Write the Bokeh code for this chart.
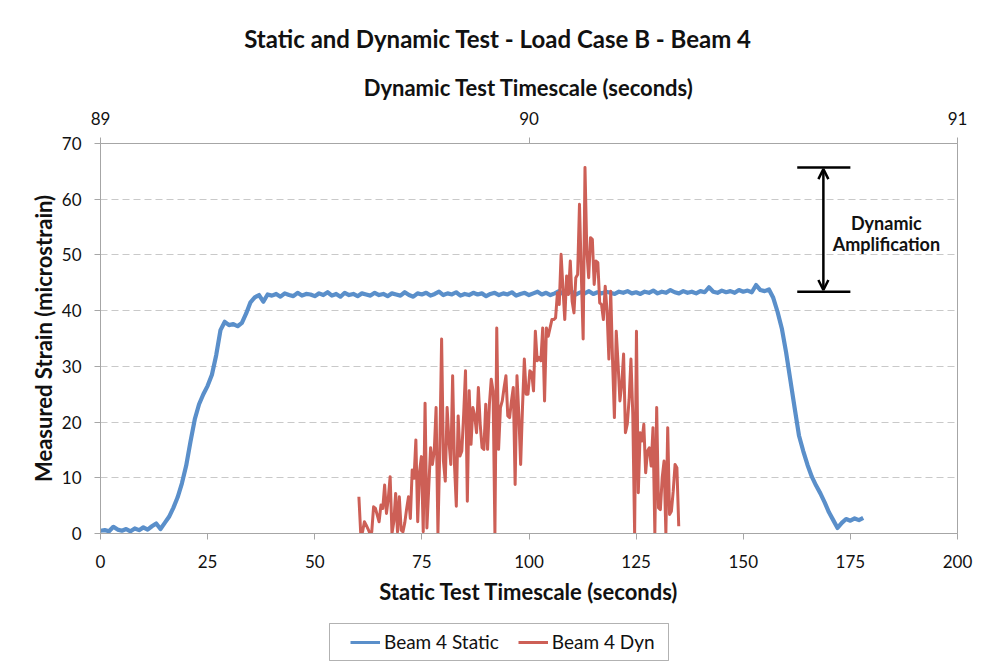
from bokeh.plotting import figure
from bokeh.layouts import column
from bokeh.models import (Range1d, LinearAxis, SingleIntervalTicker, Legend, LegendItem,
                          Arrow, OpenHead, Label, BoxAnnotation)
from bokeh.embed import file_html
from bokeh.resources import INLINE

FONT = "Lato"

# ---- Static test: sampled once per second (static timescale, seconds) ----
STATIC_T0 = 0.0
STATIC_DT = 1.0
static_strain = [
    0.5, 0.6, 0.4, 1.2, 0.7, 0.5, 0.8, 0.4, 0.9, 0.6,
    1.1, 0.7, 1.3, 1.8, 0.8, 1.9, 3.0, 4.6, 6.5, 9.0,
    12.2, 16.5, 20.5, 23.2, 25.0, 26.5, 28.5, 32.0, 36.5, 38.0,
    37.4, 37.6, 37.2, 37.8, 39.5, 41.5, 42.4, 42.8, 41.6, 42.9,
    42.7, 43.0, 42.5, 43.1, 42.8, 42.6, 43.2, 42.7, 43.0, 42.9,
    42.6, 43.1, 42.8, 43.3, 42.7, 43.0, 42.5, 43.2, 42.8, 43.0,
    42.6, 43.1, 42.9, 42.7, 43.2, 42.8, 43.0, 42.6, 43.1, 42.9,
    42.7, 43.3, 42.8, 42.5, 43.1, 42.9, 43.2, 42.7, 43.0, 43.4,
    42.8, 43.1, 42.9, 43.3, 42.7, 43.0, 42.8, 43.2, 42.9, 43.1,
    42.6, 43.0, 43.2, 42.8, 43.1, 42.9, 43.3, 42.7, 43.0, 43.2,
    42.8, 43.1, 43.4, 42.9, 43.2, 42.8, 43.1, 43.5, 43.0, 43.2,
    43.4, 42.9, 43.3, 43.1, 43.5, 43.0, 43.3, 43.1, 43.4, 43.2,
    43.0, 43.4, 43.2, 43.5, 43.1, 43.3, 43.0, 43.4, 43.2, 43.6,
    43.1, 43.4, 43.2, 43.7, 43.3, 43.1, 43.5, 43.2, 43.4, 43.1,
    43.5, 43.3, 44.2, 43.4, 43.2, 43.6, 43.3, 43.5, 43.2, 43.7,
    43.4, 43.6, 43.3, 44.6, 43.7, 43.5, 43.8, 42.3, 39.8, 36.8,
    32.5, 27.5, 22.5, 17.6, 14.8, 12.3, 10.2, 8.6, 7.2, 5.6,
    3.8, 2.4, 1.0, 1.9, 2.6, 2.3, 2.7, 2.4, 2.8,
]
static_time = [STATIC_T0 + i * STATIC_DT for i in range(len(static_strain))]

# ---- Dynamic test: sampled at a fixed rate (dynamic timescale, seconds) ----
DYN_T0 = 89.603
DYN_DT = 0.00429
dyn_strain = [
    6.6, 0.0, 0.3, 2.1, 1.5, 0.8, 0.0, 0.3, 4.8, 4.5,
    3.3, 2.1, 5.1, 4.5, 8.7, 3.6, 6.3, 10.2, 0.0, 2.1,
    7.2, 0.3, 6.6, 0.6, 0.3, 2.0, 4.5, 6.6, 2.7, 11.4,
    9.9, 16.8, 2.1, 11.1, 13.8, 0.3, 23.4, 1.0, 8.2, 15.4,
    12.4, 14.8, 22.6, 0.0, 14.8, 34.9, 13.0, 9.4, 22.6, 16.6,
    12.4, 28.3, 12.4, 4.9, 21.1, 13.9, 14.8, 21.4, 29.2, 5.8,
    25.6, 16.0, 22.6, 21.1, 18.1, 26.2, 19.6, 15.4, 15.1, 23.2,
    15.1, 23.2, 27.7, 25.6, 0.0, 36.9, 15.1, 22.6, 23.8, 26.2,
    28.3, 21.1, 20.8, 23.8, 26.2, 8.8, 28.3, 21.4, 12.4, 22.6,
    31.3, 25.0, 25.0, 29.2, 28.9, 25.6, 36.3, 31.0, 31.6, 31.0,
    36.9, 23.8, 36.9, 35.4, 36.9, 38.4, 38.4, 38.7, 43.2, 41.1,
    50.1, 44.1, 38.4, 46.2, 42.9, 48.9, 41.7, 39.6, 45.9, 46.5,
    59.1, 46.5, 34.9, 65.7, 50.7, 45.9, 53.1, 52.8, 44.7, 48.9,
    48.6, 41.4, 41.1, 38.4, 44.4, 39.9, 31.3, 43.5, 31.0, 20.8,
    36.3, 30.4, 23.8, 26.8, 32.2, 18.1, 19.6, 24.1, 31.3, 21.4,
    0.0, 36.3, 7.3, 18.1, 16.6, 19.6, 10.9, 14.8, 15.4, 12.1,
    19.0, 0.0, 22.6, 4.6, 4.3, 10.0, 13.0, 0.0, 19.0, 3.4,
    4.0, 7.6, 12.4, 11.8, 1.3,
]
dyn_time = [DYN_T0 + i * DYN_DT for i in range(len(dyn_strain))]

# ---- Axis settings and annotation ----
X_STATIC = (0, 200)
X_DYNAMIC = (89, 91)
Y_RANGE = (0, 70)
STATIC_LEVEL = 43.4          # plateau level of the static test
AMP_X = 168.7                # arrow position (static seconds)
AMP_BAR = (162.6, 175.0)     # extent of the two reference bars
AMP_TEXT_X = 183.4
AMP_TEXT_Y1 = 55.8           # "Dynamic"
AMP_TEXT_Y2 = 52.0           # "Amplification"
TITLE = "Static and Dynamic Test - Load Case B - Beam 4"

BLUE = "#5A8FCA"
RED = "#CD5F56"
GRID = "#C9C9C9"
AXIS = "#A6A6A6"
TEXT = "#111111"

W = 975
FRAME_L, FRAME_R = 100, 957
H_TITLE = 62
H_MAIN = 550
H_LEG = 55

def strip(height):
    f = figure(width=W, height=height, output_backend="svg", toolbar_location=None,
               x_range=Range1d(FRAME_L, FRAME_R), y_range=Range1d(0, height),
               min_border_left=FRAME_L, min_border_right=W - FRAME_R,
               min_border_top=0, min_border_bottom=0,
               x_axis_type=None, y_axis_type=None, title=None)
    f.grid.visible = False
    f.outline_line_color = None
    f.border_fill_color = "white"
    return f

# ---- Title strip ----
tfig = strip(H_TITLE)
tfig.add_layout(Label(x=497.5, y=H_TITLE - 38, text=TITLE, text_align="center",
                      text_baseline="middle", text_font=FONT, text_font_size="24px",
                      text_font_style="bold", text_color=TEXT))

# ---- Main chart ----
p = figure(width=W, height=H_MAIN, output_backend="svg", toolbar_location=None,
           x_range=Range1d(*X_STATIC), y_range=Range1d(*Y_RANGE),
           min_border_left=FRAME_L, min_border_right=W - FRAME_R,
           min_border_top=143 - H_TITLE, min_border_bottom=H_TITLE + H_MAIN - 533)
p.extra_x_ranges = {"dyn": Range1d(*X_DYNAMIC)}

p.outline_line_color = AXIS
p.outline_line_width = 1
p.background_fill_color = "white"
p.border_fill_color = "white"

p.xgrid.visible = False
p.ygrid.grid_line_color = GRID
p.ygrid.grid_line_dash = "7 4"
p.ygrid.grid_line_width = 1

def style_axis(ax):
    ax.axis_line_color = AXIS
    ax.major_tick_line_color = AXIS
    ax.major_tick_out = 6
    ax.major_tick_in = 0
    ax.minor_tick_line_color = None
    ax.major_label_text_font = FONT
    ax.major_label_text_font_size = "17px"
    ax.major_label_text_color = TEXT
    ax.axis_label_text_font = FONT
    ax.axis_label_text_font_size = "22px"
    ax.axis_label_text_font_style = "bold"
    ax.axis_label_text_color = TEXT

xa = p.xaxis[0]
xa.ticker = SingleIntervalTicker(interval=25)
xa.axis_label = "Static Test Timescale (seconds)"
style_axis(xa)
xa.major_label_standoff = 15
xa.axis_label_standoff = 7

ya = p.yaxis[0]
ya.ticker = SingleIntervalTicker(interval=10)
ya.axis_label = "Measured Strain (microstrain)"
style_axis(ya)
ya.major_label_standoff = 13
ya.axis_label_standoff = 2

top = LinearAxis(x_range_name="dyn", ticker=SingleIntervalTicker(interval=1),
                 axis_label="Dynamic Test Timescale (seconds)")
style_axis(top)
top.major_label_standoff = 13
top.axis_label_standoff = 8
p.add_layout(top, "above")

r_static = p.line(static_time, static_strain, line_color=BLUE, line_width=4.2, line_join="round")
r_dyn = p.line(dyn_time, dyn_strain, line_color=RED, line_width=3, line_join="round",
               x_range_name="dyn")

# Dynamic amplification marker
amp_high = max(dyn_strain)
amp_low = STATIC_LEVEL
p.segment(x0=[AMP_BAR[0], AMP_BAR[0]], x1=[AMP_BAR[1], AMP_BAR[1]],
          y0=[amp_high, amp_low], y1=[amp_high, amp_low], line_color="black", line_width=2.5)
p.add_layout(Arrow(start=OpenHead(size=10, line_width=2.5, line_color="black"),
                   end=OpenHead(size=10, line_width=2.5, line_color="black"),
                   x_start=AMP_X, y_start=amp_low + 0.3, x_end=AMP_X, y_end=amp_high - 0.3,
                   line_width=2.5, line_color="black"))
for txt, ty in (("Dynamic", AMP_TEXT_Y1), ("Amplification", AMP_TEXT_Y2)):
    p.add_layout(Label(x=AMP_TEXT_X, y=ty, text=txt,
                       text_align="center", text_baseline="middle", text_font=FONT,
                       text_font_size="18px", text_font_style="bold", text_color=TEXT))

# ---- Legend strip below the chart (page pixel coordinates) ----
leg = strip(H_LEG)
l_static = leg.line([FRAME_L], [0], line_color=BLUE, line_width=3)
l_dyn = leg.line([FRAME_L], [0], line_color=RED, line_width=3)
leg.add_layout(BoxAnnotation(left=329, right=668, bottom=7, top=44, fill_color=None,
                             line_color="black", line_width=1))
legend = Legend(items=[LegendItem(label="Beam 4 Static", renderers=[l_static]),
                       LegendItem(label="Beam 4 Dyn", renderers=[l_dyn])],
                orientation="horizontal", location=(350 - FRAME_L, 14),
                border_line_color=None, background_fill_alpha=0,
                label_text_font=FONT, label_text_font_size="19px", label_text_color=TEXT,
                glyph_width=30, glyph_height=20, label_standoff=4, spacing=19,
                padding=6, margin=0)
leg.add_layout(legend, "center")

layout = column(tfig, p, leg, spacing=0)
open("out.html", "w").write(file_html(layout, INLINE))
